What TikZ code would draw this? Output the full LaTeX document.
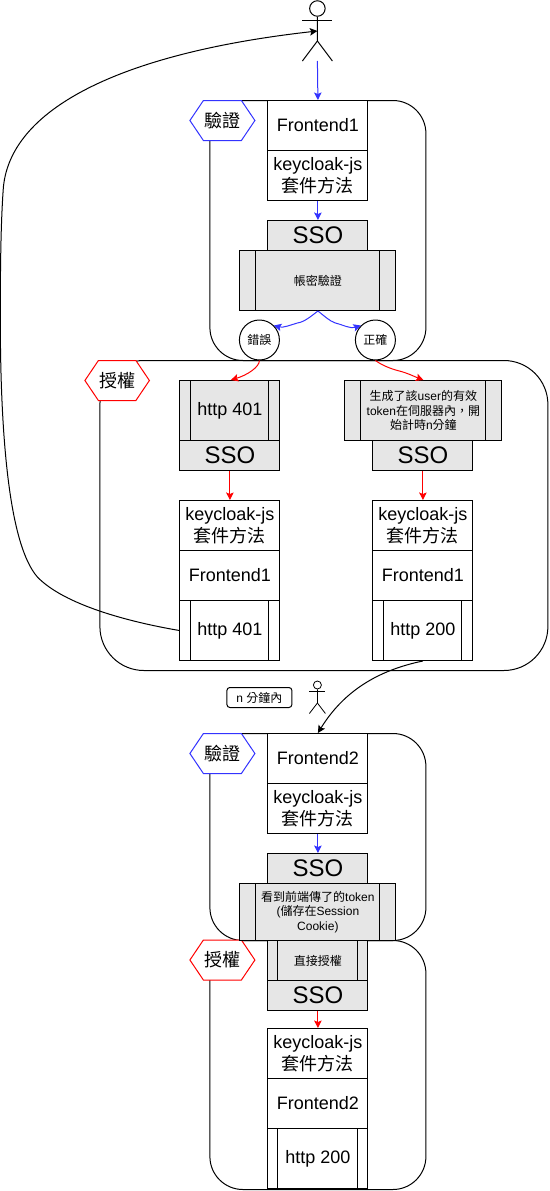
\documentclass[tikz,border=0pt]{standalone}
\usepackage{fontspec}
\setmainfont{Liberation Sans}
\newfontfamily\cjk{Noto Sans CJK TC}
\usetikzlibrary{arrows.meta}
\newcommand{\C}[1]{{\cjk #1}}
\definecolor{greyfill}{HTML}{E6E6E6}
\definecolor{flowblue}{HTML}{3333FF}
\definecolor{flowred}{HTML}{FF0000}
\tikzset{
  base/.style={draw=black,line width=1pt,inner sep=0pt,align=center,anchor=north west,font=\fontsize{18}{21.6}\selectfont},
  whitebox/.style={base,fill=white},
  greybox/.style={base,fill=greyfill},
  ssobox/.style={base,fill=greyfill,font=\fontsize{24}{28}\selectfont},
  smalltext/.style={font=\fontsize{12}{14.4}\selectfont},
  bars/.style={path picture={
    \draw[line width=1pt] ([xshift=#1]path picture bounding box.north west) -- ([xshift=#1]path picture bounding box.south west);
    \draw[line width=1pt] ([xshift=-#1]path picture bounding box.north east) -- ([xshift=-#1]path picture bounding box.south east);}},
  region/.style={draw=black,line width=1pt,inner sep=0pt,anchor=north west},
  decision/.style={circle,draw=black,fill=white,line width=1pt,inner sep=0pt,minimum size=40pt,font=\fontsize{12}{14.4}\selectfont},
  hexlabel/.style={inner sep=0pt,font=\fontsize{18}{21.6}\selectfont},
  bluearrow/.style={draw=flowblue,line width=1pt,-{Stealth[length=7.5pt,width=7.5pt,inset=1.5pt]}},
  redarrow/.style={draw=flowred,line width=1pt,-{Stealth[length=7.5pt,width=7.5pt,inset=1.5pt]}},
  blackarrow/.style={draw=black,line width=1pt,-{Stealth[length=7.5pt,width=7.5pt,inset=1.5pt]}},
}
\newcommand{\hexagon}[6]{%
  \draw[draw=#6,fill=white,line width=1pt] (#2,{(#3+#5)/2}) -- (#2+13.5,#3) -- (#4-13.5,#3) -- (#4,{(#3+#5)/2}) -- (#4-13.5,#5) -- (#2+13.5,#5) -- cycle;
  \coordinate (#1) at ({(#2+#4)/2},{(#3+#5)/2});
}
\begin{document}
\begin{tikzpicture}[x=1pt,y=-1pt]
\useasboundingbox (0,0) rectangle (549,1191);
\begin{scope}[xshift=-0.6pt]

% regions
\node[region,minimum width=216,minimum height=260,rounded corners=33pt] (r1) at (210,100) {};
\node[region,minimum width=448,minimum height=310,rounded corners=44pt] (r2) at (100,360) {};
\node[region,minimum width=216,minimum height=207,rounded corners=33pt] (r3) at (210,733) {};
\node[region,minimum width=216,minimum height=249,rounded corners=33pt] (r4) at (210,940) {};

% hexagons
\hexagon{hA}{190.5}{100.5}{255.5}{140.5}{flowblue}
\node[hexlabel] (hAt) at (hA) {\C{驗證}};
\hexagon{hB}{85.5}{360.5}{150}{400.5}{flowred}
\node[hexlabel] (hBt) at (hB) {\C{授權}};
\hexagon{hC}{190.5}{733.5}{255.5}{773.5}{flowblue}
\node[hexlabel] (hCt) at (hC) {\C{驗證}};
\hexagon{hD}{190.5}{940}{255.5}{980}{flowred}
\node[hexlabel] (hDt) at (hD) {\C{授權}};

% top actor
\node[circle,draw=black,line width=1pt,minimum size=15.5pt,inner sep=0pt] (a1head) at (318,8.5) {};
\draw[line width=1pt] (a1head.south) -- (318,41) -- (303,61);
\draw[line width=1pt] (318,41) -- (333,61);
\draw[line width=1pt] (303,20.5) -- (333,20.5);
\coordinate (a1feet) at (318,61);
\coordinate (a1mid) at (318,31);

% first column
\node[whitebox,minimum width=100,minimum height=50] (f1) at (268,100) {Frontend1};
\node[whitebox,minimum width=100,minimum height=50] (k1) at (268,150) {keycloak-js\\\C{套件方法}};
\node[ssobox,minimum width=100,minimum height=30] (s1) at (268,220) {SSO};
\node[greybox,smalltext,bars=16pt,minimum width=156,minimum height=60] (p1) at (240,250) {\C{帳密驗證}};
\node[decision] (err) at (260,340) {\C{錯誤}};
\node[decision] (ok) at (376,340) {\C{正確}};

% left column
\node[greybox,bars=11pt,minimum width=100,minimum height=60] (p401) at (180,380) {http 401};
\node[ssobox,minimum width=100,minimum height=30] (s2) at (180,440) {SSO};
\node[whitebox,minimum width=100,minimum height=50] (k2) at (180,500) {keycloak-js\\\C{套件方法}};
\node[whitebox,minimum width=100,minimum height=50] (f2) at (180,550) {Frontend1};
\node[whitebox,bars=11pt,minimum width=100,minimum height=60] (r401) at (180,600) {http 401};

% right column
\node[greybox,smalltext,bars=16pt,minimum width=157,minimum height=60] (pok) at (345,380) {\C{生成了該}user\C{的有效}\\token\C{在伺服器內\symbol{"FF0C}開}\\\C{始計時}n\C{分鐘}};
\node[ssobox,minimum width=100,minimum height=30] (s3) at (373,440) {SSO};
\node[whitebox,minimum width=100,minimum height=50] (k3) at (373,500) {keycloak-js\\\C{套件方法}};
\node[whitebox,minimum width=100,minimum height=50] (f3) at (373,550) {Frontend1};
\node[whitebox,bars=11pt,minimum width=100,minimum height=60] (r200) at (373,600) {http 200};

% middle label and actor
\node[draw=black,line width=1pt,rounded corners=3pt,minimum width=65,minimum height=20,inner sep=0pt,anchor=north west,font=\fontsize{12}{14.4}\selectfont] (nmin) at (227,687) {n \C{分鐘內}};
\node[circle,draw=black,line width=.8pt,minimum size=8pt,inner sep=0pt] (a2head) at (318,685) {};
\draw[line width=.8pt] (a2head.south) -- (318,703) -- (310,713.5);
\draw[line width=.8pt] (318,703) -- (326,713.5);
\draw[line width=.8pt] (310,691.5) -- (326,691.5);

% second flow
\node[whitebox,minimum width=100,minimum height=50] (f4) at (268,733) {Frontend2};
\node[whitebox,minimum width=100,minimum height=50] (k4) at (268,783) {keycloak-js\\\C{套件方法}};
\node[ssobox,minimum width=100,minimum height=30] (s4) at (268,853) {SSO};
\node[greybox,smalltext,bars=16pt,minimum width=156,minimum height=57] (p4) at (240,883) {\C{看到前端傳了的}token\\(\C{儲存在}Session\\Cookie)};
\node[greybox,smalltext,bars=10pt,minimum width=100,minimum height=40] (p5) at (268,940) {\C{直接授權}};
\node[ssobox,minimum width=100,minimum height=30] (s5) at (268,980) {SSO};
\node[whitebox,minimum width=100,minimum height=50] (k5) at (268,1028) {keycloak-js\\\C{套件方法}};
\node[whitebox,minimum width=100,minimum height=50] (f5) at (268,1078) {Frontend2};
\node[whitebox,bars=10pt,minimum width=100,minimum height=60] (r5) at (268,1128) {http 200};

% connectors
\draw[bluearrow] (a1feet) -- (f1.north);
\draw[bluearrow] (k1.south) -- (s1.north);
\draw[bluearrow] (p1.south) .. controls (312,316) and (305,322) .. (298,323) .. controls (291,325) and (284,328) .. (err.north east);
\draw[bluearrow] (p1.south) .. controls (325,316) and (330,321) .. (336,323) .. controls (344,325) and (351,329) .. (ok.north west);
\draw[redarrow] (err.south) .. controls (260,367) and (248,375) .. (231.5,380);
\draw[redarrow] (ok.south) .. controls (385,367) and (396,370) .. (400,371) .. controls (408,373) and (416,377) .. (pok.north);
\draw[redarrow] (s2.south) -- (k2.north);
\draw[redarrow] (s3.south) -- (k3.north);
\draw[bluearrow] (k4.south) -- (s4.north);
\draw[redarrow] (s5.south) -- (k5.north);
\draw[blackarrow] (r401.west) .. controls (130,622) and (65,605) .. (38,577) .. controls (10,545) and (2,440) .. (1,340) .. controls (0.8,290) and (0.8,230) .. (4,187) .. controls (12,105) and (130,52) .. (a1mid);
\draw[blackarrow] (r200.south) .. controls (380,670) and (345,690) .. (f4.north);
\end{scope}
\end{tikzpicture}
\end{document}
